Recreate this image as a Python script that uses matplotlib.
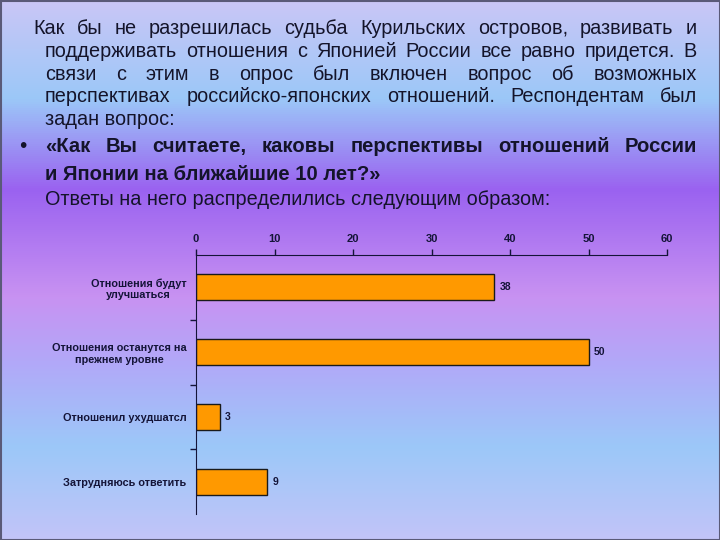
import numpy as np
import matplotlib.pyplot as plt
from matplotlib.colors import LinearSegmentedColormap
from matplotlib.patches import Rectangle

# --- Data ---
categories = ['Отношения будут\nулучшаться',
              'Отношения останутся на\nпрежнем уровне',
              'Отношенил ухудшатсл',
              'Затрудняюсь ответить']
values = [38, 50, 3, 9]
x_ticks = [0, 10, 20, 30, 40, 50, 60]

intro_lines = [
    'Как бы не разрешилась судьба Курильских островов, развивать и',
    'поддерживать отношения с Японией России все равно придется. В',
    'связи с этим в опрос был включен вопрос об возможных',
    'перспективах российско-японских отношений. Респондентам был',
]
intro_last = 'задан вопрос:'
question_lines = [
    '«Как Вы считаете, каковы перспективы отношений России',
    'и Японии на ближайшие 10 лет?»',
]
answer_line = 'Ответы на него распределились следующим образом:'

W, H = 720, 540
fig = plt.figure(figsize=(7.2, 5.4), dpi=100)

# --- Background gradient ---
bg = fig.add_axes([0, 0, 1, 1])
stops = [(0.0, '#cac6f6'), (0.18, '#9cc8f8'), (0.35, '#9a62f0'),
         (0.55, '#c892f2'), (0.67, '#b2a8f8'), (0.83, '#9cc8f8'), (1.0, '#c2c4f8')]
cmap = LinearSegmentedColormap.from_list('bg', stops)
grad = np.linspace(0, 1, 540).reshape(-1, 1)
bg.imshow(grad, aspect='auto', cmap=cmap, extent=[0, W, H, 0])
bg.set_xlim(0, W)
bg.set_ylim(H, 0)
bg.axis('off')
bg.add_patch(Rectangle((0.5, 0.5), W - 1, H - 1, fill=False, ec='#5a5a78', lw=1.5))

txt_col = '#14142a'
renderer = fig.canvas.get_renderer()
body = 14.3
bold = 14.6


def put_justified(line, x0, x1, y, size, weight='normal'):
    words = line.split()
    objs = [bg.text(0, y, w, fontsize=size, fontweight=weight, color=txt_col,
                    family='Liberation Sans', va='baseline', ha='left') for w in words]
    widths = [o.get_window_extent(renderer).width for o in objs]
    gap = (x1 - x0 - sum(widths)) / (len(words) - 1)
    x = x0
    for o, w in zip(objs, widths):
        o.set_x(x)
        x += w + gap


put_justified(intro_lines[0], 33, 697, 34, body)
put_justified(intro_lines[1], 45, 697, 57, body)
put_justified(intro_lines[2], 45, 697, 80, body)
put_justified(intro_lines[3], 45, 697, 102, body)
bg.text(45, 125, intro_last, fontsize=body, color=txt_col, family='Liberation Sans',
        va='baseline')
bg.text(19, 152, '•', fontsize=15, color=txt_col, family='Liberation Sans', va='baseline')
put_justified(question_lines[0], 45, 697, 152, bold, 'bold')
bg.text(45, 180, question_lines[1], fontsize=bold, fontweight='bold', color=txt_col,
        family='Liberation Sans', va='baseline')
bg.text(45, 205, answer_line, fontsize=body, color=txt_col, family='Liberation Sans',
        va='baseline')

# --- Bar chart ---
ax = fig.add_axes([196 / W, 1 - 514 / H, 471 / W, 259 / H])
ax.patch.set_alpha(0)
y = np.arange(len(categories))
ax.barh(y, values, height=0.4, color='#ff9900', edgecolor='#1a1a1a', linewidth=1)
for yi, v in zip(y, values):
    ax.text(v + 0.7, yi, str(v), va='center', ha='left', fontsize=7.5,
            fontweight='bold', color='#141438', family='Liberation Sans')

ax.set_xlim(0, 60)
ax.set_ylim(len(categories) - 0.5, -0.5)
ax.xaxis.tick_top()
ax.set_xticks(x_ticks)
ax.set_xticklabels([str(t) for t in x_ticks], fontsize=8, fontweight='bold',
                   family='Liberation Sans', color='#141438')
ax.tick_params(axis='x', length=4, width=1, pad=4, color='#141438')
ax.set_yticks(y)
ax.set_yticklabels(categories, fontsize=7.8, fontweight='bold', multialignment='center',
                   family='Liberation Sans', color='#141438')
ax.tick_params(axis='y', length=0, pad=7)
ax.set_yticks(np.arange(0.5, len(categories) - 0.5, 1), minor=True)
ax.tick_params(axis='y', which='minor', length=4, width=1, color='#141438')
for s in ['right', 'bottom']:
    ax.spines[s].set_visible(False)
ax.spines['top'].set_color('#141438')
ax.spines['left'].set_color('#141438')

fig.savefig('out.png', dpi=100)
